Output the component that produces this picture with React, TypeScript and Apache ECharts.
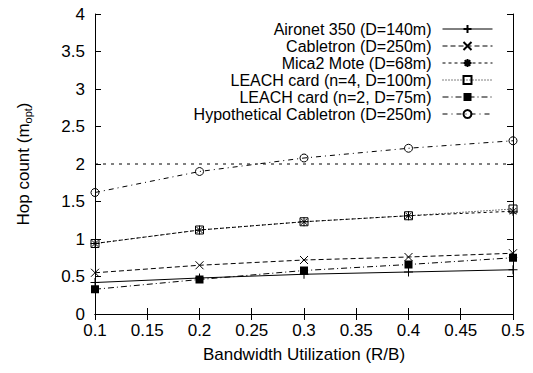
import React, { useEffect, useRef } from "react";
import * as echarts from "echarts";

const xValues = [0.1, 0.2, 0.3, 0.4, 0.5];
const seriesNames = [
  "Aironet 350 (D=140m)",
  "Cabletron (D=250m)",
  "Mica2 Mote (D=68m)",
  "LEACH card (n=4, D=100m)",
  "LEACH card (n=2, D=75m)",
  "Hypothetical Cabletron (D=250m)",
];
const aironet = [0.42, 0.48, 0.53, 0.56, 0.59];
const cabletron = [0.55, 0.65, 0.72, 0.76, 0.81];
const mica2 = [0.94, 1.12, 1.23, 1.31, 1.37];
const leach4 = [0.94, 1.12, 1.23, 1.31, 1.4];
const leach2 = [0.33, 0.46, 0.58, 0.66, 0.75];
const hypothetical = [1.62, 1.9, 2.08, 2.21, 2.31];
const referenceLevel = [2, 2];
const referenceX = [0.1, 0.5];

const FONT = "Liberation Sans";

export default function App() {
  const ref = useRef<HTMLDivElement>(null);
  useEffect(() => {
    if (!ref.current) return;
    const chart = echarts.init(ref.current, null, { renderer: "svg" });
    const values = [aironet, cabletron, mica2, leach4, leach2, hypothetical];
    const symbols = [
      "path://M0,5L10,5M5,0L5,10",
      "path://M0,0L10,10M0,10L10,0",
      "path://M0,5L10,5M5,0L5,10M1.5,1.5L8.5,8.5M1.5,8.5L8.5,1.5",
      "path://M0,0L10,0L10,10L0,10Z",
      "rect",
      "path://M5,0A5,5,0,1,1,4.99,0Z",
    ];
    const dashes: any[] = ["solid", [5, 3], [3, 3], [1, 2], [6, 3, 1, 3], [5, 4, 1, 4]];
    const sizes = [9, 8, 9, 8, 8, 8];
    const fills = ["#000", "#000", "#000", "rgba(0,0,0,0)", "#000", "rgba(0,0,0,0)"];
    const series: any[] = seriesNames.map((name, i) => ({
      name,
      type: "line",
      data: xValues.map((x, j) => [x, values[i][j]]),
      symbol: symbols[i],
      symbolSize: sizes[i],
      showAllSymbol: true,
      clip: false,
      lineStyle: { color: "#000", width: 1, type: dashes[i] },
      itemStyle: {
        color: fills[i],
        borderColor: "#000",
        borderWidth: i === 4 ? 0 : 1,
      },
      emphasis: { disabled: true },
    }));
    series.push({
      name: "ref",
      type: "line",
      data: referenceX.map((x, j) => [x, referenceLevel[j]]),
      symbol: "none",
      lineStyle: { color: "#000", width: 1, type: [3, 5] },
      emphasis: { disabled: true },
    });
    const tickStyle = { lineStyle: { color: "#000", width: 1 } };
    chart.setOption({
      animation: false,
      backgroundColor: "#fff",
      grid: { left: 95, right: 20, top: 14, bottom: 59, containLabel: false },
      legend: {
        data: seriesNames,
        orient: "vertical",
        right: 40,
        top: 21,
        padding: 0,
        align: "right",
        itemWidth: 50,
        itemHeight: 10,
        itemGap: 1,
        selectedMode: false,
        lineStyle: { width: 1 },
        textStyle: {
          fontFamily: FONT,
          fontSize: 16,
          color: "#000",
          lineHeight: 16,
          padding: [0, 6, 0, 0],
        },
      },
      xAxis: [
        {
          type: "value",
          min: 0.1,
          max: 0.5,
          interval: 0.05,
          name: "Bandwidth Utilization (R/B)",
          nameLocation: "middle",
          nameGap: 32,
          nameTextStyle: { fontFamily: FONT, fontSize: 17, color: "#000" },
          axisLine: tickStyle,
          axisTick: { inside: true, length: 6, ...tickStyle },
          axisLabel: {
            fontFamily: FONT,
            fontSize: 17,
            color: "#000",
            margin: 8,
            formatter: (v: number) => String(+v.toFixed(2)),
          },
          splitLine: { show: false },
        },
        {
          type: "value",
          position: "top",
          min: 0.1,
          max: 0.5,
          interval: 0.05,
          axisLine: tickStyle,
          axisTick: { inside: true, length: 6, ...tickStyle },
          axisLabel: { show: false },
          splitLine: { show: false },
        },
      ],
      yAxis: [
        {
          type: "value",
          min: 0,
          max: 4,
          interval: 0.5,
          name: "Hop count (m{sub|opt})",
          nameLocation: "middle",
          nameRotate: 90,
          nameGap: 62,
          nameTextStyle: {
            fontFamily: FONT,
            fontSize: 17,
            color: "#000",
            rich: {
              sub: { fontFamily: FONT, fontSize: 11, color: "#000", padding: [9, 0, 0, 0] },
            },
          },
          axisLine: tickStyle,
          axisTick: { inside: true, length: 6, ...tickStyle },
          axisLabel: { fontFamily: FONT, fontSize: 17, color: "#000", margin: 10 },
          splitLine: { show: false },
        },
        {
          type: "value",
          position: "right",
          min: 0,
          max: 4,
          interval: 0.5,
          axisLine: { show: true, ...tickStyle },
          axisTick: { show: true, inside: true, length: 6, ...tickStyle },
          axisLabel: { show: false },
          splitLine: { show: false },
        },
      ],
      series,
    });
    return () => chart.dispose();
  }, []);
  return (
    <div
      ref={ref}
      style={{ position: "fixed", left: 0, top: 0, width: 533, height: 373 }}
    />
  );
}
